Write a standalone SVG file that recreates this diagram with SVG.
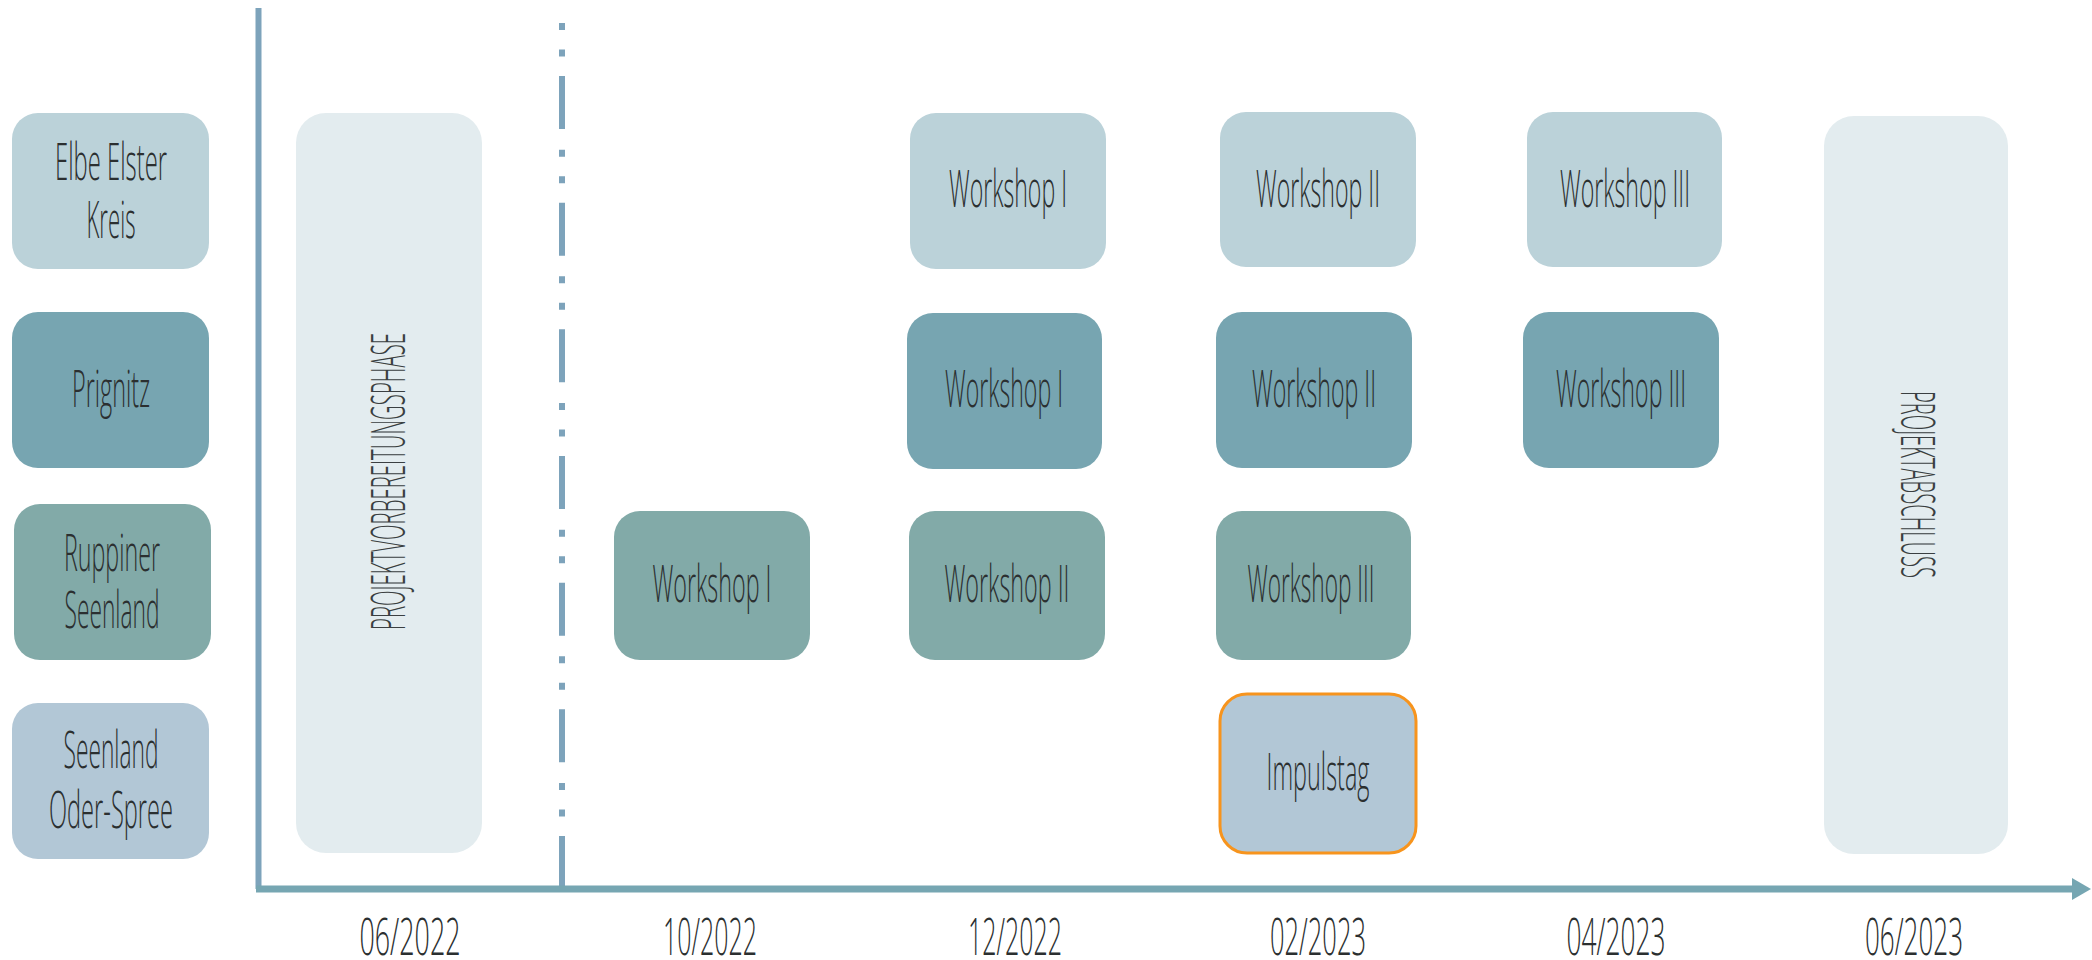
<svg xmlns="http://www.w3.org/2000/svg" width="2092" height="960" viewBox="0 0 2092 960">
<style>
.t{font-family:"Open Sans","Liberation Sans",sans-serif;font-weight:300;font-size:51px;fill:#2b2f30;text-anchor:middle}
.v{font-family:"Open Sans","Liberation Sans",sans-serif;font-weight:300;font-size:47px;fill:#3a3f41;text-anchor:middle}
.r1{fill:#BBD2D9}
.r2{fill:#77A5B1}
.r3{fill:#82AAA8}
.r4{fill:#B2C7D6}
.ph{fill:#E3ECEF}
.ax{stroke:#7DA3BB;stroke-width:6;fill:none}
</style>
<rect width="2092" height="960" fill="#ffffff"/>
<g id="connectors">
  <line class="ax" x1="258.5" y1="8" x2="258.5" y2="889"/>
  <line class="ax" x1="562" y1="23" x2="562" y2="889" stroke-dasharray="7 19.5 7 19.5 53 20.67"/>
  <line x1="256" y1="889" x2="2074" y2="889" stroke="#76A6B2" stroke-width="7"/>
  <polygon points="2072,878 2091,889 2072,900" fill="#76A6B2"/>
</g>
<g id="region-elbe-elster">
  <rect class="r1" x="12" y="113" width="197" height="156" rx="26"/>
  <text class="t"><tspan x="111" y="180" textLength="112" lengthAdjust="spacingAndGlyphs">Elbe Elster</tspan><tspan x="111" y="238" textLength="49" lengthAdjust="spacingAndGlyphs">Kreis</tspan></text>
</g>
<g id="region-prignitz">
  <rect class="r2" x="12" y="312" width="197" height="156" rx="26"/>
  <text class="t" x="111" y="407" textLength="78" lengthAdjust="spacingAndGlyphs">Prignitz</text>
</g>
<g id="region-ruppiner">
  <rect class="r3" x="14" y="504" width="197" height="156" rx="26"/>
  <text class="t"><tspan x="112" y="571" textLength="96" lengthAdjust="spacingAndGlyphs">Ruppiner</tspan><tspan x="112" y="628" textLength="95" lengthAdjust="spacingAndGlyphs">Seenland</tspan></text>
</g>
<g id="region-oder-spree">
  <rect class="r4" x="12" y="703" width="197" height="156" rx="26"/>
  <text class="t"><tspan x="111" y="768" textLength="95" lengthAdjust="spacingAndGlyphs">Seenland</tspan><tspan x="111" y="828" textLength="124" lengthAdjust="spacingAndGlyphs">Oder-Spree</tspan></text>
</g>
<g id="phase-vorbereitung">
  <rect class="ph" x="296" y="113" width="186" height="740" rx="30"/>
  <text class="v" transform="translate(405,481.5) rotate(-90)" x="0" y="0" textLength="297" lengthAdjust="spacingAndGlyphs">PROJEKTVORBEREITUNGSPHASE</text>
</g>
<g id="phase-abschluss">
  <rect class="ph" x="1824" y="116" width="184" height="738" rx="30"/>
  <text class="v" transform="translate(1901,484.5) rotate(90)" x="0" y="0" textLength="187" lengthAdjust="spacingAndGlyphs">PROJEKTABSCHLUSS</text>
</g>
<g id="ee-ws1">
  <rect class="r1" x="910" y="113" width="196" height="156" rx="26"/>
  <text class="t" x="1008" y="207" textLength="118" lengthAdjust="spacingAndGlyphs">Workshop I</text>
</g>
<g id="ee-ws2">
  <rect class="r1" x="1220" y="112" width="196" height="155" rx="26"/>
  <text class="t" x="1318" y="207" textLength="124" lengthAdjust="spacingAndGlyphs">Workshop II</text>
</g>
<g id="ee-ws3">
  <rect class="r1" x="1527" y="112" width="195" height="155" rx="26"/>
  <text class="t" x="1625" y="207" textLength="130" lengthAdjust="spacingAndGlyphs">Workshop III</text>
</g>
<g id="pr-ws1">
  <rect class="r2" x="907" y="313" width="195" height="156" rx="26"/>
  <text class="t" x="1004" y="407" textLength="118" lengthAdjust="spacingAndGlyphs">Workshop I</text>
</g>
<g id="pr-ws2">
  <rect class="r2" x="1216" y="312" width="196" height="156" rx="26"/>
  <text class="t" x="1314" y="407" textLength="124" lengthAdjust="spacingAndGlyphs">Workshop II</text>
</g>
<g id="pr-ws3">
  <rect class="r2" x="1523" y="312" width="196" height="156" rx="26"/>
  <text class="t" x="1621" y="407" textLength="130" lengthAdjust="spacingAndGlyphs">Workshop III</text>
</g>
<g id="ru-ws1">
  <rect class="r3" x="614" y="511" width="196" height="149" rx="26"/>
  <text class="t" x="712" y="602" textLength="119" lengthAdjust="spacingAndGlyphs">Workshop I</text>
</g>
<g id="ru-ws2">
  <rect class="r3" x="909" y="511" width="196" height="149" rx="26"/>
  <text class="t" x="1007" y="602" textLength="125" lengthAdjust="spacingAndGlyphs">Workshop II</text>
</g>
<g id="ru-ws3">
  <rect class="r3" x="1216" y="511" width="195" height="149" rx="26"/>
  <text class="t" x="1311" y="602" textLength="127" lengthAdjust="spacingAndGlyphs">Workshop III</text>
</g>
<g id="os-impulstag">
  <rect class="r4" x="1220" y="694" width="196" height="159" rx="27" stroke="#F7941D" stroke-width="3"/>
  <text class="t" x="1318" y="790" textLength="103" lengthAdjust="spacingAndGlyphs">Impulstag</text>
</g>
<g id="dates">
  <text class="t" x="410" y="955" textLength="101" lengthAdjust="spacingAndGlyphs">06/2022</text>
  <text class="t" x="710" y="955" textLength="94" lengthAdjust="spacingAndGlyphs">10/2022</text>
  <text class="t" x="1015" y="955" textLength="94" lengthAdjust="spacingAndGlyphs">12/2022</text>
  <text class="t" x="1318" y="955" textLength="96" lengthAdjust="spacingAndGlyphs">02/2023</text>
  <text class="t" x="1616" y="955" textLength="99" lengthAdjust="spacingAndGlyphs">04/2023</text>
  <text class="t" x="1914" y="955" textLength="98" lengthAdjust="spacingAndGlyphs">06/2023</text>
</g>
</svg>
